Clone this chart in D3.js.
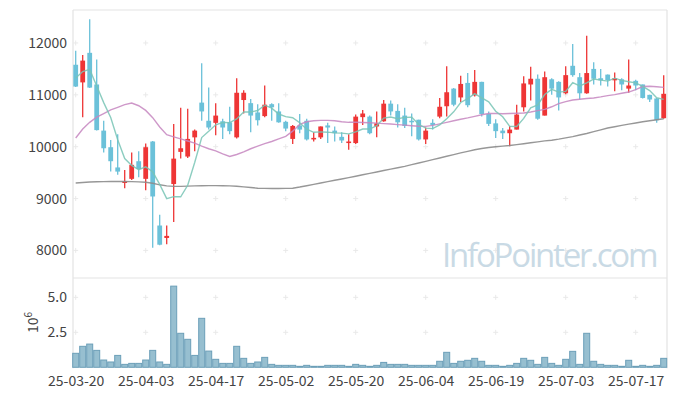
<!DOCTYPE html>
<html><head><meta charset="utf-8">
<script src="https://cdn.jsdelivr.net/npm/d3@7"></script>
<style>
html,body{margin:0;padding:0;background:#fff;}
svg text{font-family:"Noto Sans CJK KR","Noto Sans",sans-serif;}
</style></head>
<body>
<svg id="chart" width="677" height="396"></svg>
<script>
const dates = ["25-03-20","25-03-21","25-03-24","25-03-25","25-03-26","25-03-27","25-03-28","25-03-31","25-04-01","25-04-02",
"25-04-03","25-04-04","25-04-07","25-04-08","25-04-09","25-04-10","25-04-11","25-04-14","25-04-15","25-04-16",
"25-04-17","25-04-18","25-04-21","25-04-22","25-04-23","25-04-24","25-04-25","25-04-28","25-04-29","25-04-30",
"25-05-02","25-05-07","25-05-08","25-05-09","25-05-12","25-05-13","25-05-14","25-05-15","25-05-16","25-05-19",
"25-05-20","25-05-21","25-05-22","25-05-23","25-05-26","25-05-27","25-05-28","25-05-29","25-05-30","25-06-02",
"25-06-04","25-06-05","25-06-09","25-06-10","25-06-11","25-06-12","25-06-13","25-06-16","25-06-17","25-06-18",
"25-06-19","25-06-20","25-06-23","25-06-24","25-06-25","25-06-26","25-06-27","25-06-30","25-07-01","25-07-02",
"25-07-03","25-07-04","25-07-07","25-07-08","25-07-09","25-07-10","25-07-11","25-07-14","25-07-15","25-07-16",
"25-07-17","25-07-18","25-07-21","25-07-22","25-07-23"];

const open  = [11580,11240,11810,11200,10310,9990,9600,9300,9380,9720,9380,10100,8480,8240,9280,9900,9810,10180,10850,10500,
10460,10490,10470,10180,10900,10840,10660,10590,10820,10680,10480,10150,10410,10500,10140,10180,10410,10310,10190,10070,
10070,10570,10580,10390,10490,10830,10690,10600,10500,10520,10140,10460,10580,10780,11120,10950,11230,10990,11250,10630,
10450,10310,10260,10330,10760,11200,11310,10600,11300,11250,11030,11560,11340,11030,11500,11320,11390,11280,11300,11120,
11270,11200,11000,10930,10550];
const high  = [11850,11770,12460,11680,10500,10130,10240,9550,9890,9910,10060,10110,8690,8480,10440,10750,10730,10330,11610,11140,
10840,10540,10770,11320,11090,10920,10820,11180,10840,10840,10500,10420,10630,10540,10280,10390,10460,10390,10280,10240,
10620,10710,10600,10680,10900,10890,10820,10750,10640,10520,10370,10530,10940,11550,11130,11370,11420,11480,11250,10680,
10530,10360,10400,10810,11360,11540,11390,11450,11320,11260,11550,11980,11420,12140,11630,11500,11390,11430,11320,11680,
11290,11200,11000,10940,11380];
const low   = [11150,10570,11130,10310,9890,9520,9460,9200,9360,9410,9160,8050,8100,8120,8550,9770,9780,9910,10500,10330,
10220,10150,10240,10160,10640,10280,10410,10570,10500,10460,10300,10050,10260,10120,10100,10150,10070,10100,10070,9940,
10050,10420,10240,10180,10480,10600,10370,10360,10200,10120,10050,10330,10550,10580,10780,10860,10760,10970,10580,10400,
10170,10150,10010,10330,10680,10890,10520,10600,11000,10700,11010,11350,10910,11020,11200,11180,11160,11070,11090,11040,
11090,10930,10860,10460,10540];
const close = [11160,11660,11140,10320,9970,9720,9520,9330,9650,9570,9990,9040,8110,8280,9770,9970,10150,10310,10680,10370,
10600,10370,10300,11040,11040,10600,10510,10810,10760,10470,10350,10400,10330,10140,10170,10390,10370,10260,10120,10100,
10580,10640,10260,10450,10830,10680,10470,10400,10470,10140,10310,10420,10770,11050,10810,11210,10800,11250,10630,10440,
10300,10260,10330,10620,11220,11310,10540,11340,11120,10950,11380,11380,11030,11420,11310,11280,11280,11320,11200,11180,
11180,10940,10910,10510,11020];
const volume = [1.0,1.5,1.66,1.21,0.52,0.38,0.85,0.21,0.28,0.28,0.52,1.21,0.38,0.21,5.8,2.43,2.0,0.85,3.5,1.16,
0.57,0.28,0.28,1.5,0.64,0.28,0.38,0.71,0.21,0.14,0.14,0.14,0.07,0.14,0.07,0.07,0.14,0.14,0.14,0.07,
0.21,0.14,0.07,0.14,0.35,0.21,0.21,0.21,0.14,0.14,0.14,0.14,0.43,1.07,0.28,0.43,0.5,0.64,0.43,0.14,
0.14,0.07,0.14,0.28,0.64,0.5,0.21,0.71,0.28,0.14,0.57,1.14,0.21,2.43,0.43,0.21,0.14,0.14,0.07,0.5,
0.07,0.14,0.07,0.14,0.64].map(v => v * 1e6);
const ma5 = [11325,11450,11490,11170,10850,10562,10134,9772,9638,9558,9612,9516,9272,8998,9038,9034,9256,9696,10176,10296,
10422,10466,10464,10536,10670,10670,10698,10800,10744,10630,10580,10558,10462,10338,10278,10286,10280,10266,10262,10248,
10286,10340,10340,10406,10552,10572,10538,10566,10570,10432,10358,10348,10422,10538,10672,10852,10928,11024,10940,10866,
10684,10576,10392,10390,10546,10748,10804,11006,11106,11052,11066,11234,11172,11232,11304,11284,11264,11322,11278,11252,
11232,11164,11082,10944,10912];
const ma20 = [10167,10340,10470,10570,10640,10710,10760,10810,10843,10790,10700,10560,10380,10232,10190,10150,10110,10070,10010,9960,
9920,9860,9813,9850,9900,9960,10010,10060,10100,10150,10200,10300,10430,10480,10500,10508,10508,10500,10480,10470,
10470,10468,10462,10455,10445,10437,10425,10415,10405,10395,10392,10410,10440,10470,10500,10530,10555,10585,10615,10640,
10640,10636,10640,10645,10650,10670,10695,10720,10770,10830,10870,10900,10915,10930,10940,10960,10985,11003,11030,11054,
11100,11160,11165,11155,11144];
const ma60 = [9300,9310,9318,9323,9326,9328,9328,9328,9326,9322,9315,9295,9265,9245,9235,9235,9240,9245,9248,9250,
9250,9248,9245,9238,9225,9212,9200,9196,9195,9195,9196,9200,9222,9248,9274,9300,9326,9352,9378,9404,
9430,9458,9485,9512,9540,9567,9594,9621,9654,9686,9718,9750,9782,9815,9848,9880,9910,9940,9965,9985,
10000,10012,10022,10040,10058,10076,10094,10112,10125,10145,10170,10195,10225,10255,10290,10325,10360,10385,10410,10435,
10458,10480,10500,10520,10540];
const priceTicks = [8000,9000,10000,11000,12000];
const volTicks = [2.5e6,5e6];
const dateTicks = dates.filter((d,i) => i % 10 === 0);

const svg = d3.select("#chart");
const L = 73, R = 667, T = 10, MID = 278, B = 367.3;

const x = d3.scalePoint().domain(dates).range([75.7, 663.7]);
const y = d3.scaleLinear().domain([7468, 12636]).range([MID, T]);
const yv = d3.scaleLinear().domain([0, 6.36e6]).range([B, MID + 0.3]);
const step = x.step();

const data = dates.map((d,i) => ({d, o:open[i], h:high[i], l:low[i], c:close[i], v:volume[i]}));

// frame
const frame = svg.append("g").attr("stroke", "#e3e3e3").attr("stroke-width", 1.2).attr("fill","none");
frame.append("line").attr("x1", L).attr("x2", R).attr("y1", T).attr("y2", T);
frame.append("line").attr("x1", L).attr("x2", L).attr("y1", T).attr("y2", B + 1);
frame.append("line").attr("x1", R).attr("x2", R).attr("y1", T).attr("y2", B + 1);
frame.append("line").attr("x1", L).attr("x2", R).attr("y1", MID).attr("y2", MID);

// grid crosses
const crossG = svg.append("g").attr("stroke", "#e9e9e9").attr("stroke-width", 1);
const crossYs = priceTicks.map(v => y(v)).concat(volTicks.map(v => yv(v)));
dateTicks.forEach(dt => {
  crossYs.forEach(cy => {
    const cx = x(dt);
    crossG.append("line").attr("x1", cx - 2.5).attr("x2", cx + 2.5).attr("y1", cy).attr("y2", cy);
    crossG.append("line").attr("x1", cx).attr("x2", cx).attr("y1", cy - 2.5).attr("y2", cy + 2.5);
  });
});

// watermark
svg.append("text").attr("x", 442).attr("y", 267)
  .style("font-family", "'Open Sans','Noto Sans',sans-serif")
  .style("font-size", "33px").style("letter-spacing", "-2.2px")
  .attr("fill", "#c9dae5").text("InfoPointer.com");

// volume bars
svg.append("g").selectAll("rect").data(data).join("rect")
  .attr("x", d => x(d.d) - step / 2 + 0.5)
  .attr("width", step - 1)
  .attr("y", d => yv(d.v))
  .attr("height", d => yv(0) - yv(d.v))
  .attr("fill", "#97bfd0")
  .attr("stroke", "#6c9fb8").attr("stroke-width", 1);

// candles
const up = "#ee3535", down = "#6bc1d9";
const cg = svg.append("g");
cg.selectAll("line").data(data).join("line")
  .attr("x1", d => x(d.d)).attr("x2", d => x(d.d))
  .attr("y1", d => y(d.h)).attr("y2", d => y(d.l))
  .attr("stroke", d => d.c >= d.o ? up : down).attr("stroke-width", 1.3);
cg.selectAll("rect").data(data).join("rect")
  .attr("x", d => x(d.d) - 2.4).attr("width", 4.8)
  .attr("y", d => y(Math.max(d.o, d.c)))
  .attr("height", d => Math.max(1.5, Math.abs(y(d.o) - y(d.c))))
  .attr("fill", d => d.c >= d.o ? up : down);

// moving averages
const line = arr => d3.line().x((v,i) => x(dates[i])).y(v => y(v))(arr);
svg.append("path").attr("d", line(ma60)).attr("fill","none").attr("stroke","#8c8c8c").attr("stroke-width",1.4).attr("opacity",0.9);
svg.append("path").attr("d", line(ma20)).attr("fill","none").attr("stroke","#c586c0").attr("stroke-width",1.4).attr("opacity",0.85);
svg.append("path").attr("d", line(ma5)).attr("fill","none").attr("stroke","#78c4b5").attr("stroke-width",1.4).attr("opacity",0.85);

// axes
const tickText = g => g.selectAll("text").attr("fill", "#444").style("font-size", "14px");
const ay = svg.append("g").attr("transform", `translate(${L},0)`)
  .call(d3.axisLeft(y).tickValues(priceTicks).tickSize(0).tickPadding(6).tickFormat(d3.format("d")));
ay.select(".domain").remove(); tickText(ay);
const av = svg.append("g").attr("transform", `translate(${L},0)`)
  .call(d3.axisLeft(yv).tickValues(volTicks).tickSize(0).tickPadding(6).tickFormat(d => (d/1e6).toFixed(1)));
av.select(".domain").remove(); tickText(av);
const ax = svg.append("g").attr("transform", `translate(0,${B})`)
  .call(d3.axisBottom(x).tickValues(dateTicks).tickSize(0).tickPadding(9));
ax.select(".domain").remove(); tickText(ax);

// 10^6 label
const lab = svg.append("text").attr("transform", "translate(38,333) rotate(-90)")
  .attr("fill", "#444").style("font-size", "14px");
lab.append("tspan").text("10");
lab.append("tspan").attr("dy", -6).style("font-size", "10px").text("6");
</script>
</body></html>
